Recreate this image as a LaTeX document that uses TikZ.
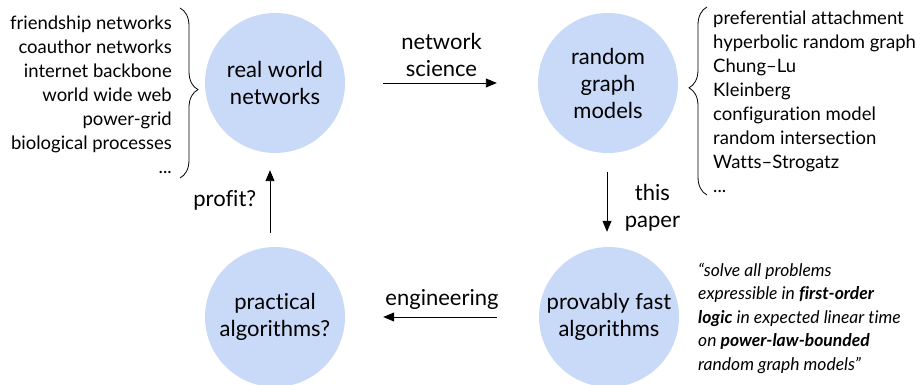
\documentclass[tikz,border=0pt]{standalone}
\usepackage{fontspec}
\setmainfont{Lato}[Ligatures=NoCommon]
\usetikzlibrary{arrows.meta,decorations.pathreplacing}
\definecolor{bubblefill}{RGB}{201,218,248}
\begin{document}
\begin{tikzpicture}[x=1pt,y=1pt,
  bubble/.style={circle,fill=bubblefill,minimum size=140pt,inner sep=0pt,align=center,font=\fontsize{22}{27}\selectfont},
  flow/.style={-{Triangle[length=11pt,width=9pt]},line width=0.9pt},
  lbl/.style={align=center,font=\fontsize{22}{27}\selectfont},
  listtext/.style={inner sep=0pt,font=\fontsize{18.5}{24}\selectfont},
  curly/.style={decorate,decoration={brace,amplitude=18pt},line width=0.8pt}]
\useasboundingbox (0,0) rectangle (923,385);
\node[bubble] (rw) at (275,302) {real world\\networks};
\node[bubble] (rg) at (608,302) {random\\graph\\models};
\node[bubble] (pf) at (609,68) {provably fast\\algorithms};
\node[bubble] (pa) at (275,68) {practical\\algorithms?};
\draw[flow,shorten <=38pt,shorten >=41pt] (rw) -- node[lbl,above=3pt] {network\\science} (rg);
\draw[flow,shorten <=19pt,shorten >=15pt] ([xshift=-1pt]rg.south) -- node[lbl,right=14pt,yshift=-8pt] {this\\paper} ([xshift=-2pt]pf.north);
\draw[flow,shorten <=42pt,shorten >=38pt] (pf) -- node[lbl,above=4pt] {engineering} (pa);
\draw[flow,shorten <=14pt,shorten >=17pt] ([xshift=-5pt]pa.north) -- node[lbl,left=10pt] {profit?} ([xshift=-5pt]rw.south);
% example lists
\node[listtext,align=right,anchor=east] (real) at (172,290) {friendship networks\\coauthor networks\\internet backbone\\world wide web\\power-grid\\biological processes\\...};
\node[listtext,align=left,anchor=west] (models) at (713,283) {preferential attachment\\hyperbolic random graph\\Chung--Lu\\Kleinberg\\configuration model\\random intersection\\Watts--Strogatz\\...};
\draw[curly,decoration={aspect=0.48}] (180,377) -- (180,207);
\draw[curly,decoration={aspect=0.57}] (707,190) -- (707,378);
% the result
\node[inner sep=0pt,align=left,anchor=west,font=\fontsize{17.5}{23.5}\selectfont\itshape] (quote) at (698,67)
  {“solve all problems\\expressible in \textbf{first-order}\\\textbf{logic} in expected linear time\\on \textbf{power-law-bounded}\\random graph models”};
\end{tikzpicture}
\end{document}
